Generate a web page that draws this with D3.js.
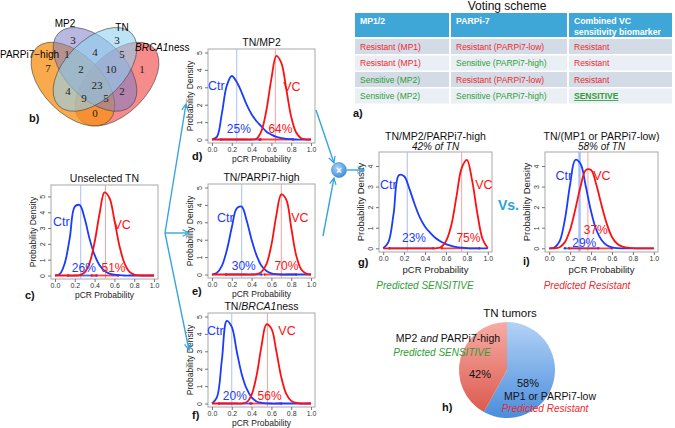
<!DOCTYPE html>
<html>
<head>
<meta charset="utf-8">
<script src="https://cdn.jsdelivr.net/npm/d3@7"></script>
<style>
  body { margin: 0; background: #fff; }
  svg { display: block; font-family: "Liberation Sans", Arial, sans-serif; }
</style>
</head>
<body>
<svg id="fig" width="675" height="428"></svg>
<script>
// ---- data ----
const pcrGrid = [0, 0.05, 0.1, 0.15, 0.2, 0.25, 0.3, 0.35, 0.4, 0.45, 0.5, 0.55, 0.6, 0.65, 0.7, 0.75, 0.8, 0.85, 0.9, 0.95, 1];
const xTicks = [0, 0.2, 0.4, 0.6, 0.8, 1.0];

const ctrUnselected = [0, 0.1, 0.8, 2.4, 4.35, 4.45, 3.6, 2.3, 1.3, 0.65, 0.3, 0.12, 0.05, 0.02, 0, 0, 0, 0, 0, 0, 0];
const vcUnselected  = [0, 0, 0, 0, 0, 0.03, 0.2, 0.8, 2.1, 3.9, 5.25, 4.9, 3.5, 1.9, 0.8, 0.25, 0.06, 0.01, 0, 0, 0];
const ctrMP2 = [0, 0.15, 1.5, 3.1, 3.65, 3.3, 2.7, 2.0, 1.45, 1.05, 0.75, 0.45, 0.28, 0.15, 0.08, 0.04, 0.02, 0, 0, 0, 0];
const vcMP2  = [0, 0, 0, 0, 0, 0, 0, 0, 0, 0.05, 0.5, 1.7, 3.5, 4.8, 4.4, 2.9, 1.3, 0.4, 0.07, 0, 0];
const ctrPARPi = [0, 0.1, 0.5, 1.4, 2.7, 3.8, 3.9, 3.1, 2.0, 1.1, 0.5, 0.2, 0.07, 0.02, 0, 0, 0, 0, 0, 0, 0];
const vcPARPi  = [0, 0, 0, 0, 0, 0, 0, 0, 0, 0.02, 0.15, 0.6, 1.7, 3.4, 4.6, 4.3, 2.7, 1.1, 0.3, 0.05, 0];
const ctrBRCA = [0, 0.35, 2.5, 4.75, 4.4, 3.0, 1.7, 0.85, 0.35, 0.12, 0.04, 0.01, 0, 0, 0, 0, 0, 0, 0, 0, 0];
const vcBRCA  = [0, 0, 0, 0, 0, 0, 0, 0.08, 0.5, 1.6, 3.3, 4.55, 4.3, 3.0, 1.5, 0.55, 0.15, 0.03, 0, 0, 0];
const ctrSensitive = [0, 0.3, 1.7, 3.55, 3.5, 2.9, 2.15, 1.5, 1.05, 0.75, 0.5, 0.33, 0.2, 0.12, 0.06, 0.03, 0.01, 0, 0, 0, 0];
const vcSensitive  = [0, 0, 0, 0, 0, 0, 0, 0, 0, 0, 0, 0.05, 0.35, 1.1, 2.5, 3.9, 4.3, 3.3, 1.7, 0.45, 0];
const ctrResistant = [0, 0.04, 0.35, 1.4, 3.1, 4.3, 4.1, 3.0, 1.8, 0.9, 0.4, 0.15, 0.05, 0.01, 0, 0, 0, 0, 0, 0, 0];
const vcResistant  = [0, 0, 0.05, 0.3, 0.9, 1.9, 3.0, 3.8, 3.8, 3.1, 2.1, 1.2, 0.55, 0.22, 0.08, 0.03, 0.01, 0, 0, 0, 0];

// posterior means [Ctr, VC] and 95% intervals
const meansPct = { c: [26, 51], d: [25, 64], e: [30, 70], f: [20, 56], g: [23, 75], i: [29, 37] };
const ciCtr = { c: [0.13, 0.42], d: [0.09, 0.49], e: [0.14, 0.5], f: [0.07, 0.39], g: [0.06, 0.48], i: [0.15, 0.47] };
const ciVC  = { c: [0.37, 0.64], d: [0.48, 0.82], e: [0.53, 0.85], f: [0.40, 0.70], g: [0.56, 0.92], i: [0.19, 0.60] };

const vennSets = ["PARPi7\u2212high", "MP2", "TN", "BRCA1ness"];
const vennCounts = [3, 3, 7, 1, 4, 5, 1, 2, 10, 23, 4, 2, 9, 5, 0];

const voteHeader = ["MP1/2", "PARPi-7", "Combined VC|sensitivity biomarker"];
const voteMP = ["Resistant (MP1)", "Resistant (MP1)", "Sensitive (MP2)", "Sensitive (MP2)"];
const voteParp = ["Resistant (PARPi7-low)", "Sensitive (PARPi7-high)", "Resistant (PARPi7-low)", "Sensitive (PARPi7-high)"];
const voteCombined = ["Resistant", "Resistant", "Resistant", "SENSITIVE"];

const pieLabels = ["MP1 or PARPi7-low", "MP2 and PARPi7-high"];
const pieShare = [58, 42];

// ---- drawing ----
const svg = d3.select("#fig");
const defs = svg.append("defs");
const BLUE = "#1a3cff", RED = "#ff1010", GREEN = "#2e9e35", ARROW = "#36a6da";
const redTxt = "#ec2a2f";

// Venn diagram
const vx = d3.scaleLinear().domain([0, 1]).range([21.5, 168.5]);
const vy = d3.scaleLinear().domain([0.185, 0.855]).range([126, 27.5]);
const vennShapes = [
  { c: [0.65, 0.47], rot: -45, fill: "#f25a5a", op: 0.7 },
  { c: [0.35, 0.47], rot: 45, fill: "#f7921a", op: 0.78 },
  { c: [0.5, 0.57], rot: 45, fill: "#7e7ec8", op: 0.55 },
  { c: [0.5, 0.57], rot: -45, fill: "#8fd0f0", op: 0.6 }
];
const vg = svg.append("g");
vg.selectAll("ellipse.fill").data(vennShapes).join("ellipse")
  .attr("transform", d => `translate(${vx(d.c[0])},${vy(d.c[1])}) rotate(${d.rot})`)
  .attr("rx", 0.35 * 147).attr("ry", 0.2 * 147)
  .attr("fill", d => d.fill).attr("fill-opacity", d => d.op)
  .attr("stroke", "#444").attr("stroke-width", 0.6);
const vennPos = [[73, 40], [117, 40], [48, 68], [67, 54], [95, 52], [122, 54], [142, 69], [81, 69], [111, 69], [97, 85], [68, 91], [122, 91], [84, 98], [106, 98], [95, 113]];
vg.selectAll("text.cnt").data(vennCounts).join("text")
  .attr("x", (d, i) => vennPos[i][0]).attr("y", (d, i) => vennPos[i][1] + 4)
  .attr("text-anchor", "middle").attr("font-family", "Liberation Serif, Times New Roman, serif")
  .attr("font-size", 11).attr("fill", "#222").text(d => d);
vg.append("text").attr("x", 0).attr("y", 58).attr("font-size", 10).text(vennSets[0]);
vg.append("text").attr("x", 65).attr("y", 27).attr("text-anchor", "middle").attr("font-size", 10).text(vennSets[1]);
vg.append("text").attr("x", 122).attr("y", 31).attr("text-anchor", "middle").attr("font-size", 10).text(vennSets[2]);
const brT = vg.append("text").attr("x", 135).attr("y", 51).attr("font-size", 10);
brT.append("tspan").attr("font-style", "italic").text("BRCA1");
brT.append("tspan").text("ness");

// density panels
const panels = [
  { key: "c", left: 51, top: 185, w: 107, h: 94, yMax: 5.5, yTicks: [0, 1, 2, 3, 4, 5], ctr: ctrUnselected, vc: vcUnselected,
    title: [["Unselected TN", false]], ctrLbl: [-0.02, 3.1], vcLbl: [0.59, 2.95], ctrPct: [0.17, 0.25], vcPct: [0.47, 0.25] },
  { key: "d", left: 208, top: 49, w: 107, h: 94, yMax: 5, yTicks: [0, 1, 2, 3, 4, 5], ctr: ctrMP2, vc: vcMP2,
    title: [["TN/MP2", false]], ctrLbl: [-0.04, 2.85], vcLbl: [0.72, 2.8], ctrPct: [0.15, 0.4], vcPct: [0.57, 0.4] },
  { key: "e", left: 208, top: 184, w: 107, h: 94, yMax: 5, yTicks: [0, 1, 2, 3, 4, 5], ctr: ctrPARPi, vc: vcPARPi,
    title: [["TN/PARPi7-high", false]], ctrLbl: [0.05, 3.0], vcLbl: [0.8, 3.0], ctrPct: [0.2, 0.28], vcPct: [0.63, 0.28] },
  { key: "f", left: 208, top: 313, w: 107, h: 94, yMax: 5, yTicks: [0, 1, 2, 3, 4, 5], ctr: ctrBRCA, vc: vcBRCA,
    title: [["TN/", false], ["BRCA1", true], ["ness", false]], ctrLbl: [-0.05, 3.95], vcLbl: [0.67, 3.95], ctrPct: [0.11, 0.23], vcPct: [0.46, 0.23] },
  { key: "g", left: 379, top: 152, w: 113, h: 100, yMax: 4.5, yTicks: [0, 1, 2, 3, 4], ctr: ctrSensitive, vc: vcSensitive,
    title: [["TN/MP2/PARPi7-high", false]], sub: "42% of TN", ctrLbl: [-0.03, 2.9], vcLbl: [0.88, 2.9], ctrPct: [0.18, 0.3], vcPct: [0.7, 0.3] },
  { key: "i", left: 545, top: 152, w: 113, h: 100, yMax: 4.5, yTicks: [0, 1, 2, 3, 4], ctr: ctrResistant, vc: vcResistant,
    title: [["TN/(MP1 or PARPi7-low)", false]], sub: "58% of TN", ctrLbl: [0.06, 3.3], vcLbl: [0.42, 3.3], ctrPct: [0.22, 0.05], vcPct: [0.33, 0.7] }
];

panels.forEach(p => {
  const g = svg.append("g");
  const x = d3.scaleLinear().domain([-0.04, 1.04]).range([p.left, p.left + p.w]);
  const y = d3.scaleLinear().domain([-0.04 * p.yMax, 1.04 * p.yMax]).range([p.top + p.h, p.top]);
  const big = p.key === "g" || p.key === "i";

  g.append("rect").attr("x", p.left).attr("y", p.top).attr("width", p.w).attr("height", p.h)
    .attr("fill", "none").attr("stroke", "#a8a8a8").attr("stroke-width", 1);

  const [mc, mv] = meansPct[p.key];
  g.append("line").attr("x1", x(mc / 100)).attr("x2", x(mc / 100)).attr("y1", p.top).attr("y2", p.top + p.h)
    .attr("stroke", "#a9bff5").attr("stroke-width", p.key === "i" ? 2.5 : 1);
  g.append("line").attr("x1", x(mv / 100)).attr("x2", x(mv / 100)).attr("y1", p.top).attr("y2", p.top + p.h)
    .attr("stroke", "#f5a3a3").attr("stroke-width", 1);

  // interval rugs on the baseline
  [[ciCtr[p.key], BLUE], [ciVC[p.key], RED]].forEach(([ci, col]) => {
    g.append("line").attr("x1", x(ci[0])).attr("x2", x(ci[1])).attr("y1", y(0)).attr("y2", y(0))
      .attr("stroke", col).attr("stroke-width", 1.8).attr("stroke-opacity", 0.8);
    g.selectAll(null).data(ci).join("circle").attr("cx", d => x(d)).attr("cy", y(0)).attr("r", 1.2).attr("fill", col);
  });

  const line = d3.line().x((d, i) => x(pcrGrid[i])).y(d => y(d)).curve(d3.curveCatmullRom.alpha(0.5));
  const clipId = "clip" + p.key;
  defs.append("clipPath").attr("id", clipId).append("rect")
    .attr("x", p.left).attr("y", p.top).attr("width", p.w).attr("height", p.h);
  const cg = g.append("g").attr("clip-path", `url(#${clipId})`);
  cg.append("path").datum(p.ctr).attr("d", line).attr("fill", "none").attr("stroke", BLUE).attr("stroke-width", 1.8);
  cg.append("path").datum(p.vc).attr("d", line).attr("fill", "none").attr("stroke", RED).attr("stroke-width", 1.8);

  // axes
  const xa = g.append("g").attr("transform", `translate(0,${p.top + p.h})`)
    .call(d3.axisBottom(x).tickValues(xTicks).tickFormat(d3.format(".1f")).tickSize(3).tickPadding(1.5));
  const ya = g.append("g").attr("transform", `translate(${p.left},0)`)
    .call(d3.axisLeft(y).tickValues(p.yTicks).tickFormat(d3.format("d")).tickSize(3).tickPadding(2));
  [xa, ya].forEach(a => {
    a.select(".domain").remove();
    a.selectAll(".tick line").attr("stroke", "#777");
    a.selectAll("text").attr("font-size", 7).attr("fill", "#333").attr("font-family", "Liberation Sans, Arial, sans-serif");
  });
  ya.selectAll("text").attr("transform", "rotate(-90)").attr("x", 0).attr("dy", 0)
    .attr("y", -6.5).attr("text-anchor", "middle");

  g.append("text").attr("x", p.left + p.w / 2).attr("y", p.top + p.h + (big ? 20.5 : 18.5))
    .attr("text-anchor", "middle").attr("font-size", big ? 9.5 : 8.5).attr("fill", "#222").text("pCR Probability");
  g.append("text").attr("transform", `translate(${p.left - 15},${p.top + p.h / 2}) rotate(-90)`)
    .attr("text-anchor", "middle").attr("font-size", big ? 9.5 : 8.5).attr("fill", "#222").text("Probability Density");

  const tt = g.append("text").attr("x", p.left + p.w / 2).attr("y", big ? p.top - 12 : p.top - 3)
    .attr("text-anchor", "middle").attr("font-size", 10.5).attr("fill", "#111");
  p.title.forEach(([s, it]) => tt.append("tspan").attr("font-style", it ? "italic" : "normal").text(s));
  if (p.sub) {
    g.append("text").attr("x", p.left + p.w / 2).attr("y", p.top - 2).attr("text-anchor", "middle")
      .attr("font-size", 10).attr("font-style", "italic").attr("fill", "#111").text(p.sub);
  }

  const lab = (pos, txt, col, fs) => g.append("text").attr("x", x(pos[0])).attr("y", y(pos[1]))
    .attr("font-size", fs).attr("fill", col).text(txt);
  lab(p.ctrLbl, "Ctr", BLUE, 12.5);
  lab(p.vcLbl, "VC", RED, 12.5);
  lab(p.ctrPct, mc + "%", BLUE, 12);
  lab(p.vcPct, mv + "%", RED, 12);
});

// arrows
defs.append("marker").attr("id", "arr").attr("viewBox", "0 0 10 10").attr("refX", 9).attr("refY", 5)
  .attr("markerUnits", "userSpaceOnUse").attr("markerWidth", 8).attr("markerHeight", 8).attr("orient", "auto")
  .append("path").attr("d", "M1,1 L9,5 L1,9").attr("fill", "none").attr("stroke", ARROW).attr("stroke-width", 1.6);
const arrowSegs = [[165, 233, 186, 104], [165, 233, 189, 233], [165, 233, 189, 350],
  [316, 110, 334, 163], [323, 236, 334, 178], [347, 170, 364, 170]];
svg.append("g").selectAll("line").data(arrowSegs).join("line")
  .attr("x1", d => d[0]).attr("y1", d => d[1]).attr("x2", d => d[2]).attr("y2", d => d[3])
  .attr("stroke", ARROW).attr("stroke-width", 1.4).attr("marker-end", "url(#arr)");

const rg = defs.append("radialGradient").attr("id", "xgrad").attr("cx", "40%").attr("cy", "35%").attr("r", "70%");
rg.append("stop").attr("offset", "0%").attr("stop-color", "#a9d3f7");
rg.append("stop").attr("offset", "100%").attr("stop-color", "#3d8bd8");
svg.append("circle").attr("cx", 339).attr("cy", 170).attr("r", 7.5).attr("fill", "url(#xgrad)").attr("stroke", "#3a88d0").attr("stroke-width", 0.6);
svg.append("text").attr("x", 339).attr("y", 173.5).attr("text-anchor", "middle").attr("font-size", 10)
  .attr("font-weight", "bold").attr("fill", "#fff").text("\u00d7");

svg.append("text").attr("x", 498).attr("y", 210).attr("font-size", 14).attr("font-weight", "bold").attr("fill", "#2ba2d6").text("Vs.");
svg.append("text").attr("x", 425).attr("y", 289).attr("text-anchor", "middle").attr("font-size", 10)
  .attr("font-style", "italic").attr("fill", GREEN).text("Predicted SENSITIVE");
svg.append("text").attr("x", 587).attr("y", 289).attr("text-anchor", "middle").attr("font-size", 10)
  .attr("font-style", "italic").attr("fill", redTxt).text("Predicted Resistant");

// voting scheme table
const tg = svg.append("g");
tg.append("text").attr("x", 507).attr("y", 10).attr("text-anchor", "middle").attr("font-size", 12).attr("fill", "#111").text("Voting scheme");
const colX = [[355, 449], [451, 567], [569, 672]];
colX.forEach((c, j) => {
  tg.append("rect").attr("x", c[0]).attr("y", 13).attr("width", c[1] - c[0]).attr("height", 24).attr("fill", "#3fa7d8");
  const parts = voteHeader[j].split("|");
  parts.forEach((s, k) => tg.append("text").attr("x", c[0] + 5).attr("y", 24 + k * 11)
    .attr("font-size", 8.7).attr("font-weight", "bold").attr("fill", "#fff").text(s));
});
const rowCols = [voteMP, voteParp, voteCombined];
voteMP.forEach((_, r) => {
  const top = 39 + r * 16.5;
  colX.forEach((c, j) => {
    tg.append("rect").attr("x", c[0]).attr("y", top).attr("width", c[1] - c[0]).attr("height", 15)
      .attr("fill", r % 2 === 0 ? "#d3dbe7" : "#eaeef5");
    const txt = rowCols[j][r];
    const col = txt.startsWith("Resistant") ? redTxt : GREEN;
    const t = tg.append("text").attr("x", c[0] + 5).attr("y", top + 10.5).attr("font-size", 8.5).attr("fill", col).text(txt);
    if (txt === "SENSITIVE") t.attr("font-weight", "bold").attr("text-decoration", "underline");
  });
});

// pie chart
const pg = svg.append("g").attr("transform", "translate(507,370)");
const gb = defs.append("linearGradient").attr("id", "gBlue").attr("x1", 0).attr("y1", 0).attr("x2", 0).attr("y2", 1);
gb.append("stop").attr("offset", "0%").attr("stop-color", "#b3d2f6");
gb.append("stop").attr("offset", "100%").attr("stop-color", "#4a8ddc");
const gr = defs.append("linearGradient").attr("id", "gRed").attr("x1", 0).attr("y1", 0).attr("x2", 0).attr("y2", 1);
gr.append("stop").attr("offset", "0%").attr("stop-color", "#f7aca5");
gr.append("stop").attr("offset", "100%").attr("stop-color", "#dc5a4e");
const pie = d3.pie().sort(null)(pieShare);
const arc = d3.arc().innerRadius(0).outerRadius(48);
pg.selectAll("path").data(pie).join("path").attr("d", arc)
  .attr("fill", (d, i) => i === 0 ? "url(#gBlue)" : "url(#gRed)");
svg.append("text").attr("x", 510).attr("y", 317).attr("text-anchor", "middle").attr("font-size", 11.5).attr("fill", "#111").text("TN tumors");
svg.append("text").attr("x", 480).attr("y", 378).attr("text-anchor", "middle").attr("font-size", 11).attr("fill", "#111").text(pieShare[1] + "%");
svg.append("text").attr("x", 528).attr("y", 387).attr("text-anchor", "middle").attr("font-size", 11).attr("fill", "#111").text(pieShare[0] + "%");
svg.append("text").attr("x", 550).attr("y", 400).attr("text-anchor", "middle").attr("font-size", 10.5).attr("fill", "#111").text(pieLabels[0]);
svg.append("text").attr("x", 545).attr("y", 412).attr("text-anchor", "middle").attr("font-size", 10)
  .attr("font-style", "italic").attr("fill", redTxt).text("Predicted Resistant");
const mpT = svg.append("text").attr("x", 448).attr("y", 342).attr("text-anchor", "middle").attr("font-size", 10.5).attr("fill", "#111");
pieLabels[1].split(" ").forEach((w, k) => mpT.append("tspan").attr("font-style", w === "and" ? "italic" : "normal").text((k ? " " : "") + w));
svg.append("text").attr("x", 442).attr("y", 356).attr("text-anchor", "middle").attr("font-size", 10)
  .attr("font-style", "italic").attr("fill", GREEN).text("Predicted SENSITIVE");

// panel letters
const letters = [["a)", 353, 117], ["b)", 29, 122], ["c)", 25, 299], ["d)", 192, 160], ["e)", 192, 295],
  ["f)", 192, 419], ["g)", 358, 266], ["h)", 442, 411], ["i)", 523, 265]];
svg.append("g").selectAll("text").data(letters).join("text")
  .attr("x", d => d[1]).attr("y", d => d[2]).attr("font-size", 11).attr("font-weight", "bold").attr("fill", "#111").text(d => d[0]);
</script>
</body>
</html>
